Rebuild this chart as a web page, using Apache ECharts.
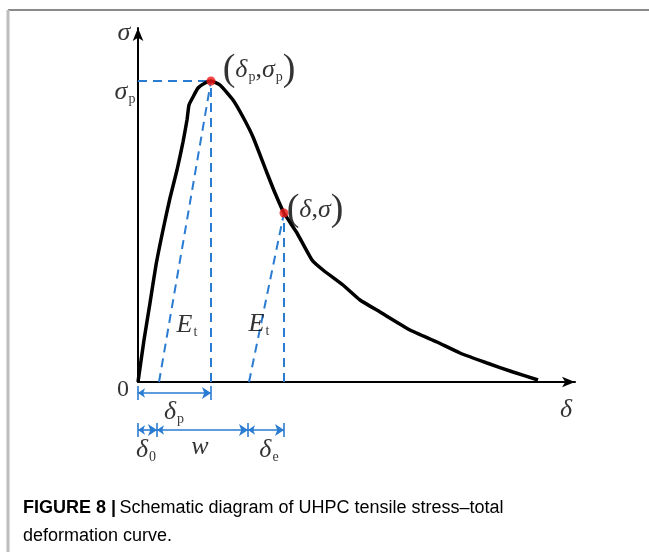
<!DOCTYPE html>
<html><head><meta charset="utf-8">
<script src="https://cdn.jsdelivr.net/npm/echarts@6/dist/echarts.min.js"></script>
<style>html,body{margin:0;padding:0;background:#fff}#c{width:649px;height:552px}</style>
</head><body><div id="c"></div>
<script>
// Curve: deformation (x) vs stress (y), schematic units
const curveX = [0,6,12,18,25,32,39,45,49,51,55,60,67,73,82,95,105,115,129,137,146,159,174,185,205,222,242,272,299,322,349,375,400];
const curveY = [0,42,79,117,152,184,212,240,262,277,285,294,299,301,297,282,265,245,209,189,169,149,122,112,97,82,70,52,40,29,19,10,2];
const peak = [73,301];
const pointDS = [146,169];
const etStart1 = 21, etStart2 = 111;
// dimension rows
const row1Y = -11, row2Y = -48;
const dimDeltaP = [0,73];
const dimRow2 = [0,19,110,146];

const blue = '#2a7bd2';
const serif = '"Liberation Serif","DejaVu Serif",serif';
const rich = {
  m:{fontFamily:serif,fontStyle:'italic',fontSize:26,color:'#000',lineHeight:34},
  r:{fontFamily:serif,fontSize:26,color:'#000',lineHeight:34},
  z:{fontFamily:serif,fontSize:24,color:'#000',lineHeight:34},
  b:{fontFamily:serif,fontSize:38,color:'#000',lineHeight:44},
  s:{fontFamily:serif,fontSize:14,color:'#000',padding:[15,0,0,1],lineHeight:34}
};
const labels = [
  {v:[-14,349], t:'{m|σ}'},
  {v:[-13,290], t:'{m|σ}{s|p}'},
  {v:[121,312], t:'{b|(}{m|δ}{s|p}{r|,}{m|σ}{s|p}{b|)}'},
  {v:[177,172], t:'{b|(}{m|δ}{r|,}{m|σ}{b|)}'},
  {v:[49,57], t:'{m|E}{s|t}'},
  {v:[121,58], t:'{m|E}{s|t}'},
  {v:[-15,-8], t:'{z|0}'},
  {v:[428,-28], t:'{m|δ}'},
  {v:[36,-30], t:'{m|δ}{s|p}'},
  {v:[8,-68], t:'{m|δ}{s|0}'},
  {v:[62,-65], t:'{m|w}'},
  {v:[131,-68], t:'{m|δ}{s|e}'}
];

const dashed = {type:[9,6],color:blue,width:2,opacity:1};
function seg(a,b){return {coords:[a,b]};}
const dimArrows = [seg([dimDeltaP[0],row1Y],[dimDeltaP[1],row1Y])];
for(let i=0;i<dimRow2.length-1;i++) dimArrows.push(seg([dimRow2[i],row2Y],[dimRow2[i+1],row2Y]));
const ticks = [seg([dimDeltaP[0],row1Y+7],[dimDeltaP[0],row1Y-7]),seg([dimDeltaP[1],row1Y+7],[dimDeltaP[1],row1Y-7])];
dimRow2.forEach(x=>ticks.push(seg([x,row2Y+7],[x,row2Y-7])));

const chart = echarts.init(document.getElementById('c'));
chart.setOption({
  animation:false,
  backgroundColor:'#fff',
  grid:{left:138,right:74,top:28,bottom:170},
  xAxis:{type:'value',min:0,max:437,splitLine:{show:false},axisTick:{show:false},axisLabel:{show:false},
    axisLine:{lineStyle:{color:'#000',width:2},symbol:['none','arrow'],symbolSize:[8,13]}},
  yAxis:{type:'value',min:0,max:354,splitLine:{show:false},axisTick:{show:false},axisLabel:{show:false},
    axisLine:{lineStyle:{color:'#000',width:2},symbol:['none','arrow'],symbolSize:[8,13]}},
  graphic:[
    {type:'line',shape:{x1:8,y1:10,x2:649,y2:10},style:{stroke:'#8a8a8a',lineWidth:2}},
    {type:'line',shape:{x1:8,y1:10,x2:8,y2:552},style:{stroke:'#bdbdbd',lineWidth:3}},
    {type:'text',left:23,top:499,style:{rich:{
        a:{fontFamily:'"Liberation Sans",Arial,sans-serif',fontWeight:'bold',fontSize:18,color:'#222',lineHeight:28},
        n:{fontFamily:'"Liberation Sans",Arial,sans-serif',fontSize:18,color:'#333',lineHeight:28}},
      text:'{a|FIGURE 8 |} {n|Schematic diagram of UHPC tensile stress–total}\n{n|deformation curve.}'}}
  ],
  series:[
    {type:'lines',coordinateSystem:'cartesian2d',clip:false,silent:true,z:3,
      lineStyle:dashed,symbol:['none','none'],
      data:[seg([0,peak[1]],peak),seg([peak[0],0],peak),seg([etStart1,0],peak),seg([etStart2,0],pointDS),seg([pointDS[0],0],pointDS)]},
    {type:'line',data:curveX.map((x,i)=>[x,curveY[i]]),showSymbol:false,smooth:0.15,z:4,
      lineStyle:{color:'#000',width:3.5}},
    {type:'scatter',data:[peak,pointDS],symbolSize:9,itemStyle:{color:'#f01818'},z:5},
    {type:'lines',coordinateSystem:'cartesian2d',clip:false,silent:true,z:3,
      lineStyle:{color:blue,width:1.6,opacity:1},symbol:['arrow','arrow'],symbolSize:[7,9],data:dimArrows},
    {type:'lines',coordinateSystem:'cartesian2d',clip:false,silent:true,z:3,
      lineStyle:{color:blue,width:1.6,opacity:1},symbol:['none','none'],data:ticks},
    {type:'scatter',clip:false,symbolSize:0,silent:true,z:6,
      data:labels.map(l=>({value:l.v,label:{show:true,position:'inside',formatter:l.t,rich:rich}}))}
  ]
});
</script></body></html>
